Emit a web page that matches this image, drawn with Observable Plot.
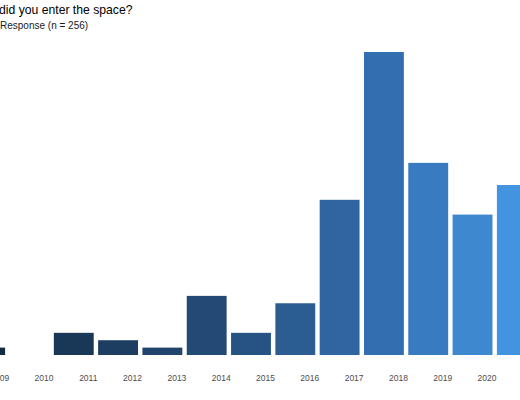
<!DOCTYPE html>
<html>
<head>
<meta charset="utf-8">
<script src="https://cdn.jsdelivr.net/npm/d3@7"></script>
<script src="https://cdn.jsdelivr.net/npm/@observablehq/plot@0.6"></script>
<style>
  body { margin: 0; overflow: hidden; background: #fff; font-family: "Liberation Sans", Arial, sans-serif; }
  #header { height: 34px; }
  #title { font-size: 12.2px; line-height: 16px; padding-top: 2px; color: #000; margin-left: -1px; white-space: nowrap; }
  #subtitle { font-size: 10px; line-height: 13px; margin-top: 1px; color: #1a1a1a; white-space: nowrap; }
  #chart { position: relative; left: -40px; width: 580px; }
</style>
</head>
<body>
<div id="header">
  <div id="title">did you enter the space?</div>
  <div id="subtitle">Response (n = 256)</div>
</div>
<div id="chart"></div>
<script>
const years = [2009, 2010, 2011, 2012, 2013, 2014, 2015, 2016, 2017, 2018, 2019, 2020, 2021];
const counts = [1, 0, 3, 2, 1, 8, 3, 7, 21, 41, 26, 19, 23];

const data = years.map((year, i) => ({year, count: counts[i]}));

let chart = Plot.plot({
  width: 580,
  height: 366,
  marginLeft: 3,
  marginRight: 1,
  marginTop: 18,
  marginBottom: 45,
  x: {
    type: "band",
    domain: years,
    paddingInner: 0.1,
    paddingOuter: 0.05,
    round: false,
    label: null
  },
  y: {domain: [0, 41], axis: null},
  color: {
    type: "linear",
    domain: [2009, 2014, 2018, 2021],
    range: ["#132B43", "#234A75", "#336FB0", "#4394E0"],
    interpolate: "rgb"
  },
  marks: [
    Plot.barY(data.filter(d => d.count > 0), {x: "year", y: "count", fill: "year"}),
    Plot.axisX({
      tickSize: 0,
      tickPadding: 19,
      dx: 14,
      fontSize: 8.5,
      fill: "#4d4d4d",
      label: null,
      tickFormat: d => String(d)
    })
  ],
  style: {
    fontFamily: "Liberation Sans, Arial, sans-serif",
    background: "#fff"
  }
})

d3.select('#chart').append(() => chart)
</script>
</body>
</html>
